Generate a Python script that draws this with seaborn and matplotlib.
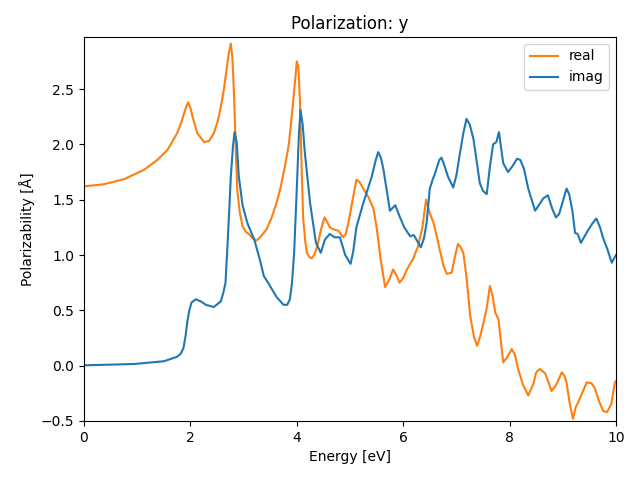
import matplotlib
matplotlib.use("Agg")
import matplotlib.pyplot as plt
import seaborn as sns
import pandas as pd

real_x = [0.0, 0.38, 0.75, 1.13, 1.38, 1.57, 1.75, 1.83, 1.88, 1.93, 1.96, 2.00, 2.04, 2.13, 2.26, 2.35, 2.44, 2.52,
          2.58, 2.63, 2.68, 2.72, 2.76, 2.79, 2.82, 2.85, 2.88, 2.93, 2.98, 3.04, 3.10, 3.17, 3.24, 3.31, 3.38, 3.43,
          3.52, 3.62, 3.70, 3.78, 3.85, 3.90, 3.95, 4.00, 4.03, 4.06, 4.09, 4.12, 4.16, 4.19, 4.24, 4.28, 4.34,
          4.40, 4.46, 4.52, 4.57, 4.62, 4.70, 4.78, 4.87, 4.92, 4.97, 5.05, 5.12, 5.18, 5.25, 5.35, 5.44, 5.50,
          5.58, 5.66, 5.74, 5.81, 5.87, 5.93, 6.00, 6.07, 6.19, 6.28, 6.36, 6.43, 6.50, 6.57, 6.64, 6.69, 6.76,
          6.82, 6.91, 6.97, 7.03, 7.08, 7.13, 7.19, 7.26, 7.33, 7.39, 7.45, 7.51, 7.57, 7.63, 7.68, 7.73, 7.79,
          7.84, 7.88, 7.96, 8.04, 8.10, 8.16, 8.25, 8.35, 8.45, 8.50, 8.57, 8.67, 8.73, 8.79, 8.88, 8.98, 9.03,
          9.07, 9.13, 9.19, 9.24, 9.29, 9.37, 9.45, 9.54, 9.60, 9.68, 9.76, 9.83, 9.91, 9.98, 10.0]
real_y = [1.62, 1.64, 1.685, 1.77, 1.86, 1.95, 2.10, 2.20, 2.28, 2.35, 2.38, 2.33, 2.25, 2.10, 2.02, 2.03, 2.10, 2.22,
          2.36, 2.50, 2.68, 2.82, 2.91, 2.78, 2.45, 2.00, 1.59, 1.38, 1.26, 1.21, 1.19, 1.15, 1.13, 1.16, 1.20, 1.23,
          1.33, 1.47, 1.62, 1.81, 2.00, 2.23, 2.48, 2.75, 2.70, 2.38, 1.80, 1.33, 1.12, 1.02, 0.98, 0.97, 1.01,
          1.11, 1.24, 1.34, 1.30, 1.25, 1.23, 1.22, 1.16, 1.19, 1.29, 1.50, 1.68, 1.66, 1.60, 1.52, 1.42, 1.25,
          0.95, 0.71, 0.78, 0.87, 0.82, 0.75, 0.79, 0.87, 0.97, 1.08, 1.25, 1.50, 1.38, 1.29, 1.15, 1.04, 0.90,
          0.83, 0.84, 0.98, 1.10, 1.07, 1.02, 0.80, 0.45, 0.26, 0.18, 0.27, 0.39, 0.52, 0.72, 0.63, 0.48, 0.42,
          0.20, 0.03, 0.08, 0.15, 0.10, -0.03, -0.17, -0.27, -0.16, -0.06, -0.03, -0.07, -0.15, -0.23, -0.17, -0.06,
          -0.09, -0.15, -0.34, -0.48, -0.38, -0.33, -0.24, -0.15, -0.16, -0.20, -0.32, -0.41, -0.42, -0.35, -0.15, -0.14]

imag_x = [0.0, 0.94, 1.5, 1.75, 1.82, 1.87, 1.91, 1.94, 1.98, 2.02, 2.10, 2.20, 2.29, 2.44, 2.57, 2.62, 2.66, 2.69,
          2.73, 2.76, 2.80, 2.83, 2.87, 2.91, 2.98, 3.07, 3.20, 3.31, 3.38, 3.46, 3.62, 3.75, 3.82, 3.87, 3.91,
          3.95, 4.00, 4.04, 4.07, 4.11, 4.15, 4.25, 4.36, 4.45, 4.53, 4.62, 4.71, 4.81, 4.91, 5.01, 5.06, 5.12,
          5.25, 5.41, 5.48, 5.53, 5.58, 5.63, 5.75, 5.85, 5.94, 6.02, 6.13, 6.20, 6.33, 6.39, 6.44, 6.50, 6.56,
          6.60, 6.68, 6.72, 6.78, 6.84, 6.94, 7.00, 7.07, 7.13, 7.19, 7.25, 7.32, 7.38, 7.44, 7.50, 7.57, 7.63,
          7.69, 7.75, 7.80, 7.88, 7.97, 8.05, 8.14, 8.20, 8.27, 8.35, 8.48, 8.55, 8.63, 8.72, 8.80, 8.87, 8.93,
          8.98, 9.07, 9.12, 9.18, 9.23, 9.28, 9.34, 9.47, 9.55, 9.63, 9.70, 9.76, 9.84, 9.92, 10.0]
imag_y = [0.003, 0.015, 0.04, 0.08, 0.11, 0.16, 0.27, 0.39, 0.50, 0.57, 0.60, 0.58, 0.55, 0.53, 0.58, 0.66, 0.75, 1.02,
          1.40, 1.71, 1.98, 2.11, 2.02, 1.71, 1.45, 1.29, 1.14, 0.95, 0.81, 0.75, 0.62, 0.55, 0.55, 0.60, 0.75,
          1.02, 1.60, 2.10, 2.31, 2.18, 1.93, 1.47, 1.11, 1.02, 1.14, 1.19, 1.16, 1.16, 1.00, 0.92, 1.03, 1.25,
          1.47, 1.71, 1.85, 1.93, 1.88, 1.77, 1.40, 1.45, 1.34, 1.25, 1.17, 1.18, 1.07, 1.15, 1.29, 1.60, 1.69,
          1.74, 1.86, 1.88, 1.80, 1.71, 1.61, 1.72, 1.93, 2.10, 2.23, 2.18, 2.05, 1.85, 1.65, 1.58, 1.55, 1.80,
          2.00, 2.02, 2.11, 1.83, 1.75, 1.80, 1.87, 1.86, 1.78, 1.60, 1.40, 1.45, 1.51, 1.54, 1.42, 1.34, 1.37,
          1.45, 1.60, 1.55, 1.40, 1.20, 1.19, 1.11, 1.22, 1.28, 1.33, 1.25, 1.15, 1.05, 0.93, 1.00]

df = pd.concat([
    pd.DataFrame({"Energy": real_x, "Polarizability": real_y, "series": "real"}),
    pd.DataFrame({"Energy": imag_x, "Polarizability": imag_y, "series": "imag"}),
], ignore_index=True)

fig, ax = plt.subplots(figsize=(6.4, 4.8), dpi=100)
sns.lineplot(data=df, x="Energy", y="Polarizability", hue="series", sort=False,
             palette={"real": "#ff7f0e", "imag": "#1f77b4"}, linewidth=1.5, ax=ax)
ax.set_xlim(0, 10)
ax.set_ylim(-0.5, 2.97)
ax.set_title("Polarization: y")
ax.set_xlabel("Energy [eV]")
ax.set_ylabel("Polarizability [Å]")
ax.legend(loc="upper right")
fig.subplots_adjust(left=84 / 640, right=616 / 640, top=1 - 37 / 480, bottom=1 - 421 / 480)
fig.savefig("out.png", dpi=100)
